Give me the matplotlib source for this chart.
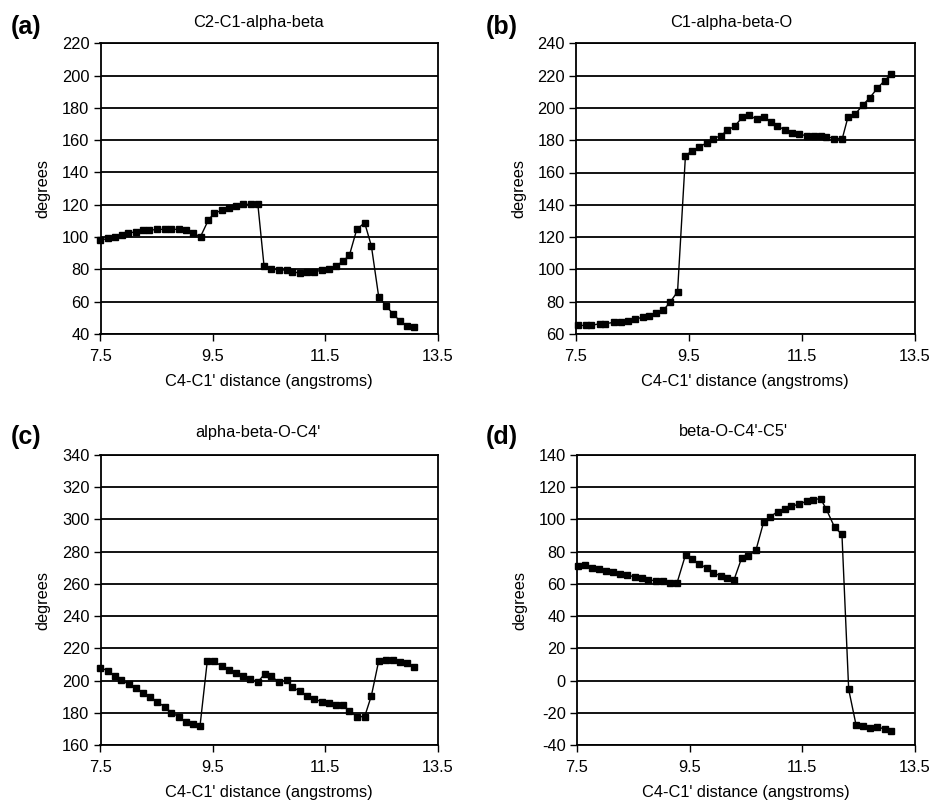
import matplotlib
matplotlib.use("Agg")
import matplotlib.pyplot as plt

plt.rcParams['font.family'] = ['Liberation Sans', 'DejaVu Sans']
plt.rcParams['axes.unicode_minus'] = False

# ---- data ----
x_a = [7.50, 7.64, 7.76, 7.89, 7.99, 8.13, 8.26, 8.37, 8.51, 8.65, 8.76, 8.89, 9.03, 9.15, 9.28,
       9.42, 9.52, 9.66, 9.79, 9.91, 10.04, 10.17, 10.30, 10.41, 10.53, 10.68, 10.81, 10.91, 11.05,
       11.17, 11.30, 11.44, 11.57, 11.69, 11.82, 11.93, 12.06, 12.20, 12.32, 12.45, 12.58, 12.70,
       12.83, 12.95, 13.07]
y_a = [98.2, 99.2, 100.3, 101.5, 102.3, 103.4, 104.2, 104.2, 104.8, 104.8, 104.8, 104.8, 104.2, 102.3,
       100.3, 110.6, 114.7, 116.6, 118.2, 119.3, 120.3, 120.3, 120.3, 82.1, 80.4, 79.6, 79.6, 78.4,
       77.8, 78.4, 78.4, 79.6, 80.4, 82.1, 85.2, 88.9, 104.8, 108.9, 94.5, 63.1, 57.5, 52.6, 48.0,
       45.2, 44.3]

x_b = [7.53, 7.67, 7.77, 7.92, 8.02, 8.17, 8.30, 8.42, 8.55, 8.68, 8.79, 8.92, 9.05, 9.17, 9.30,
       9.44, 9.56, 9.68, 9.82, 9.93, 10.07, 10.18, 10.31, 10.45, 10.56, 10.70, 10.83, 10.95, 11.06,
       11.21, 11.32, 11.45, 11.60, 11.71, 11.84, 11.94, 12.08, 12.22, 12.32, 12.45, 12.59, 12.71,
       12.84, 12.97, 13.09]
y_b = [65.3, 65.3, 65.3, 66.4, 66.4, 67.2, 67.2, 68.2, 69.3, 70.3, 71.3, 73.2, 74.8, 79.8, 86.2,
       170.4, 173.5, 175.6, 178.5, 181.0, 182.8, 186.1, 188.6, 194.2, 195.4, 193.1, 194.2, 191.5,
       188.6, 186.5, 184.7, 183.6, 182.8, 182.8, 182.8, 182.2, 181.0, 181.0, 194.2, 196.2, 202.0,
       206.4, 212.1, 216.9, 221.0]

x_c = [7.50, 7.64, 7.76, 7.87, 8.00, 8.13, 8.26, 8.38, 8.51, 8.65, 8.76, 8.89, 9.02, 9.15, 9.27,
       9.40, 9.52, 9.66, 9.79, 9.91, 10.04, 10.16, 10.30, 10.42, 10.53, 10.67, 10.81, 10.91, 11.05,
       11.18, 11.30, 11.44, 11.57, 11.69, 11.81, 11.93, 12.06, 12.20, 12.32, 12.45, 12.58, 12.70,
       12.83, 12.96, 13.08]
y_c = [208.0, 205.9, 202.8, 200.1, 197.9, 195.4, 192.5, 189.8, 186.9, 183.4, 180.1, 177.6, 174.3,
       172.8, 171.6, 212.1, 212.1, 208.8, 206.8, 204.9, 202.8, 201.2, 199.1, 204.1, 203.0, 199.1,
       200.1, 196.0, 193.3, 190.6, 188.7, 186.7, 185.9, 184.8, 184.8, 181.1, 177.6, 177.6, 190.6,
       212.1, 212.7, 212.7, 211.5, 210.7, 208.4]

x_d = [7.52, 7.64, 7.77, 7.89, 8.01, 8.14, 8.27, 8.38, 8.53, 8.65, 8.77, 8.91, 9.03, 9.15, 9.28,
       9.43, 9.54, 9.67, 9.81, 9.91, 10.06, 10.16, 10.29, 10.43, 10.54, 10.68, 10.82, 10.93, 11.07,
       11.19, 11.31, 11.45, 11.58, 11.69, 11.83, 11.93, 12.08, 12.21, 12.33, 12.46, 12.59, 12.70,
       12.84, 12.97, 13.09]
y_d = [71.1, 71.5, 70.1, 69.2, 68.2, 67.4, 66.3, 65.3, 64.5, 63.4, 62.4, 62.0, 62.0, 60.8, 60.8,
       78.1, 75.2, 72.5, 69.7, 67.0, 64.9, 63.9, 62.4, 76.3, 77.1, 80.8, 98.6, 101.7, 104.8, 106.7,
       108.3, 109.4, 111.4, 112.3, 112.9, 106.5, 95.1, 90.8, -5.5, -27.4, -28.4, -29.3, -28.8,
       -30.1, -31.3]

titles = ["C2-C1-alpha-beta", "C1-alpha-beta-O", "alpha-beta-O-C4'", "beta-O-C4'-C5'"]
panel_labels = ["(a)", "(b)", "(c)", "(d)"]
y_ranges = [(40, 220), (60, 240), (160, 340), (-40, 140)]
x_ticks = [7.5, 9.5, 11.5, 13.5]
x_label = "C4-C1' distance (angstroms)"
y_label = "degrees"

W, H = 935, 802
fig = plt.figure(figsize=(W / 100, H / 100), dpi=100)

# axes boxes in pixels: left, top, right, bottom
boxes = [(100.5, 43.3, 437.7, 334.0),
         (576.0, 43.3, 914.5, 334.0),
         (100.5, 455.0, 437.7, 745.0),
         (577.0, 455.0, 914.5, 745.0)]
title_pos = [(258, 22), (731, 22), (258, 432), (733, 432)]
label_pos = [(26, 27), (502, 27), (26, 437), (502, 437)]

series = [(x_a, y_a), (x_b, y_b), (x_c, y_c), (x_d, y_d)]
fs = 11.8
for i, ((l, t, r, b), (xs, ys)) in enumerate(zip(boxes, series)):
    ax = fig.add_axes([l / W, 1 - b / H, (r - l) / W, (b - t) / H])
    ymin, ymax = y_ranges[i]
    ax.set_xlim(7.5, 13.5)
    ax.set_ylim(ymin, ymax)
    ax.set_xticks(x_ticks)
    ax.set_xticklabels([f"{v:.1f}" for v in x_ticks])
    ax.set_yticks(list(range(ymin, ymax + 1, 20)))
    ax.grid(axis='y', color='black', linewidth=1.3)
    ax.set_axisbelow(True)
    for s in ax.spines.values():
        s.set_color('black')
        s.set_linewidth(1.3)
    ax.tick_params(axis='both', direction='out', length=5, width=1.0,
                   labelsize=fs, colors='black', pad=3)
    ax.tick_params(axis='x', pad=6)
    ax.plot(xs, ys, color='black', linewidth=1.0, marker='s', markersize=4.6,
            markerfacecolor='black', markeredgecolor='black', zorder=3, clip_on=False)
    ax.set_xlabel(x_label, fontsize=fs, labelpad=7)
    ax.set_ylabel(y_label, fontsize=fs, labelpad=8)
    tx, ty = title_pos[i]
    fig.text(tx / W, 1 - ty / H, titles[i], fontsize=fs, ha='center', va='center')
    px, py = label_pos[i]
    fig.text(px / W, 1 - py / H, panel_labels[i], fontsize=18, fontweight='bold',
             ha='center', va='center')

fig.savefig("out.png", dpi=100)
